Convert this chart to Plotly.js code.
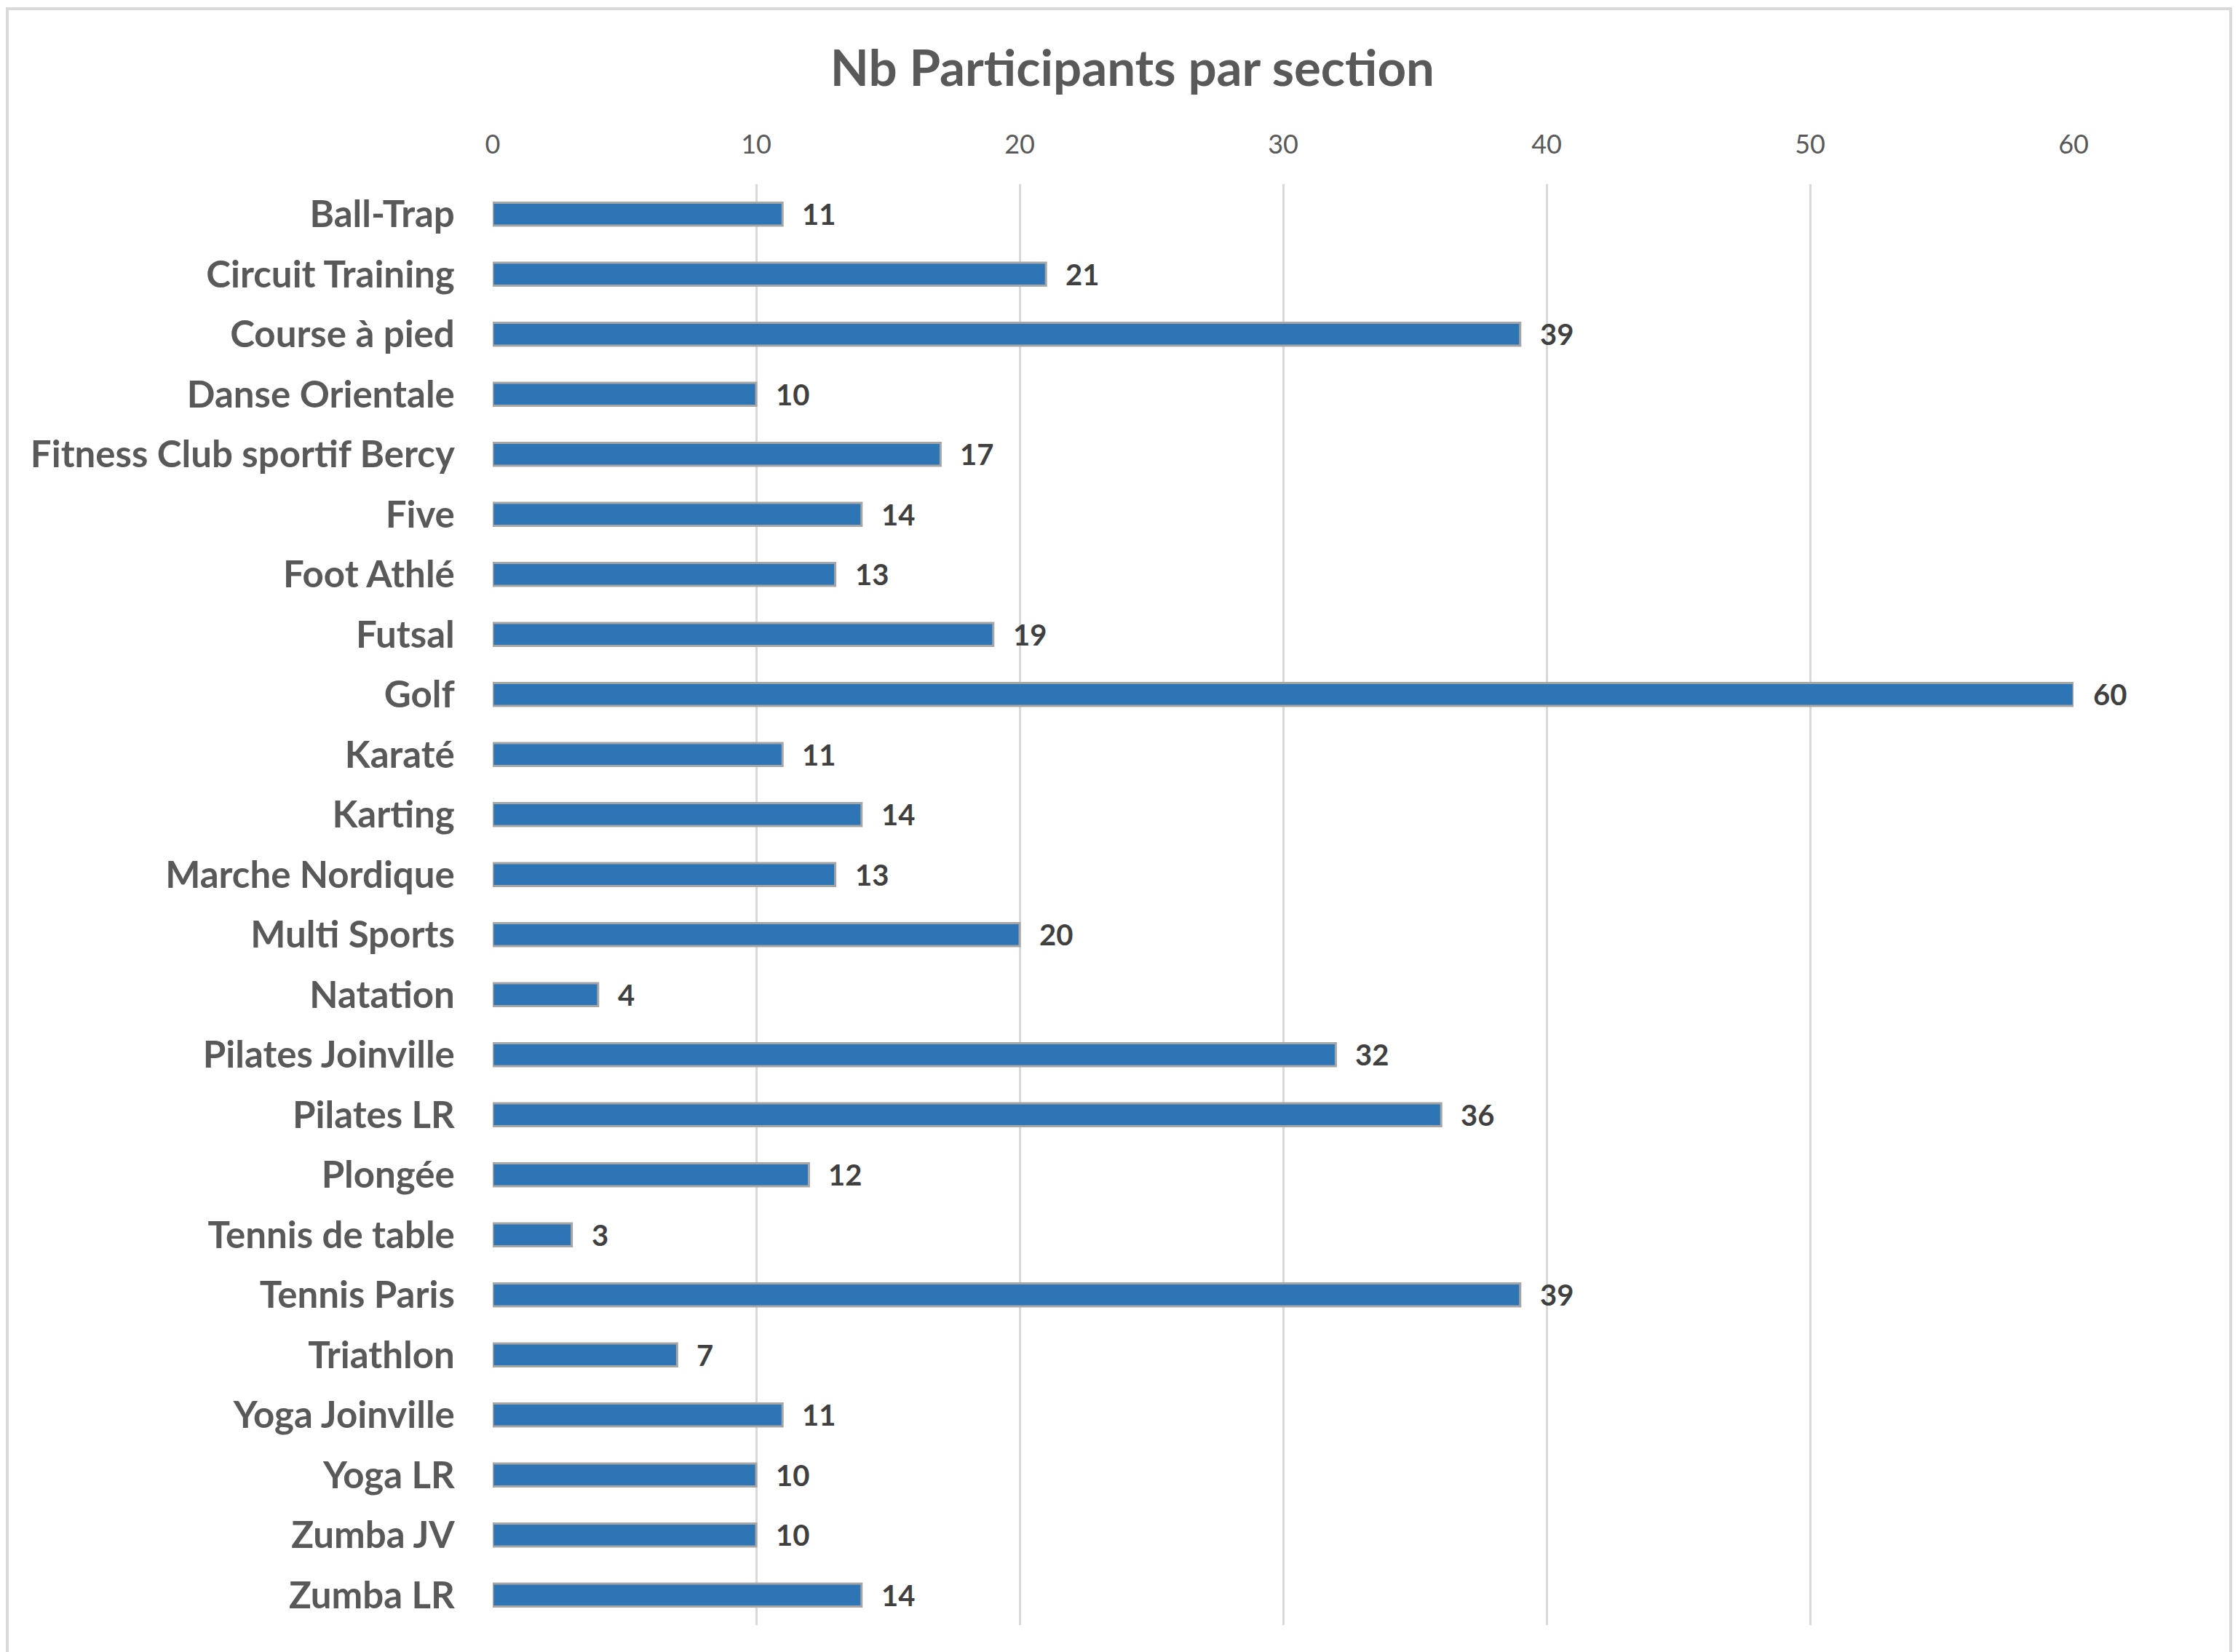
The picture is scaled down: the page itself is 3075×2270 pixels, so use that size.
<!DOCTYPE html>
<html>
<head>
<meta charset="utf-8">
<script src="https://cdn.plot.ly/plotly-3.0.1.min.js"></script>
<style>
  html, body { margin: 0; padding: 0; background: #ffffff; }
  #chart { width: 3075px; height: 2270px; }
</style>
</head>
<body>
<div id="chart"></div>
<script>
const categories = [
  "Ball-Trap", "Circuit Training", "Course à pied", "Danse Orientale",
  "Fitness Club sportif Bercy", "Five", "Foot Athlé", "Futsal", "Golf",
  "Karaté", "Karting", "Marche Nordique", "Multi Sports", "Natation",
  "Pilates Joinville", "Pilates LR", "Plongée", "Tennis de table",
  "Tennis Paris", "Triathlon", "Yoga Joinville", "Yoga LR", "Zumba JV", "Zumba LR"
];
const participants = [11, 21, 39, 10, 17, 14, 13, 19, 60, 11, 14, 13, 20, 4, 32, 36, 12, 3, 39, 7, 11, 10, 10, 14];
const xTicks = [0, 10, 20, 30, 40, 50, 60];
const chartTitle = "Nb Participants par section";

const FONT = "Lato, 'Open Sans', 'DejaVu Sans', sans-serif";

const trace = {
  type: "bar",
  orientation: "h",
  x: participants,
  y: categories,
  marker: { color: "#2E75B6", line: { color: "#A6A6A6", width: 3 } },
  hoverinfo: "x+y",
  cliponaxis: false
};

const annotations = categories.map((c, i) => ({
  x: participants[i],
  y: c,
  xref: "x",
  yref: "y",
  text: String(participants[i]),
  showarrow: false,
  xanchor: "left",
  yanchor: "middle",
  xshift: 25,
  font: { family: FONT, size: 40, color: "#404040", weight: 700 }
}));

const layout = {
  width: 3075,
  height: 2270,
  margin: { l: 677, r: 226, t: 253, b: 37, pad: 0 },
  paper_bgcolor: "#ffffff",
  plot_bgcolor: "#ffffff",
  showlegend: false,
  bargap: 0.62,
  title: {
    text: chartTitle,
    xref: "container",
    yref: "container",
    x: 0.506,
    xanchor: "center",
    y: 1 - 94 / 2270,
    yanchor: "middle",
    font: { family: FONT, size: 69, color: "#595959", weight: 700 }
  },
  xaxis: {
    side: "top",
    range: [0, 60],
    tickvals: xTicks,
    ticktext: xTicks.map(String),
    showgrid: true,
    gridcolor: "#D9D9D9",
    gridwidth: 3,
    zeroline: false,
    showline: false,
    ticks: "outside",
    ticklen: 27,
    tickcolor: "rgba(0,0,0,0)",
    tickfont: { family: FONT, size: 36, color: "#595959" },
    fixedrange: true
  },
  yaxis: {
    type: "category",
    autorange: "reversed",
    showgrid: false,
    zeroline: false,
    showline: false,
    ticks: "outside",
    ticklen: 41,
    tickcolor: "rgba(0,0,0,0)",
    tickfont: { family: FONT, size: 51, color: "#595959", weight: 700 },
    fixedrange: true
  },
  annotations: annotations,
  shapes: [{
    type: "rect",
    xref: "paper",
    yref: "paper",
    x0: (10 - 677) / 2172,
    x1: (3065 - 677) / 2172,
    y0: (2233 - 2285) / 1980,
    y1: (2233 - 12) / 1980,
    line: { color: "#D9D9D9", width: 4 },
    fillcolor: "rgba(0,0,0,0)",
    layer: "below"
  }]
};

Plotly.newPlot("chart", [trace], layout, { staticPlot: true, displayModeBar: false });
</script>
</body>
</html>
